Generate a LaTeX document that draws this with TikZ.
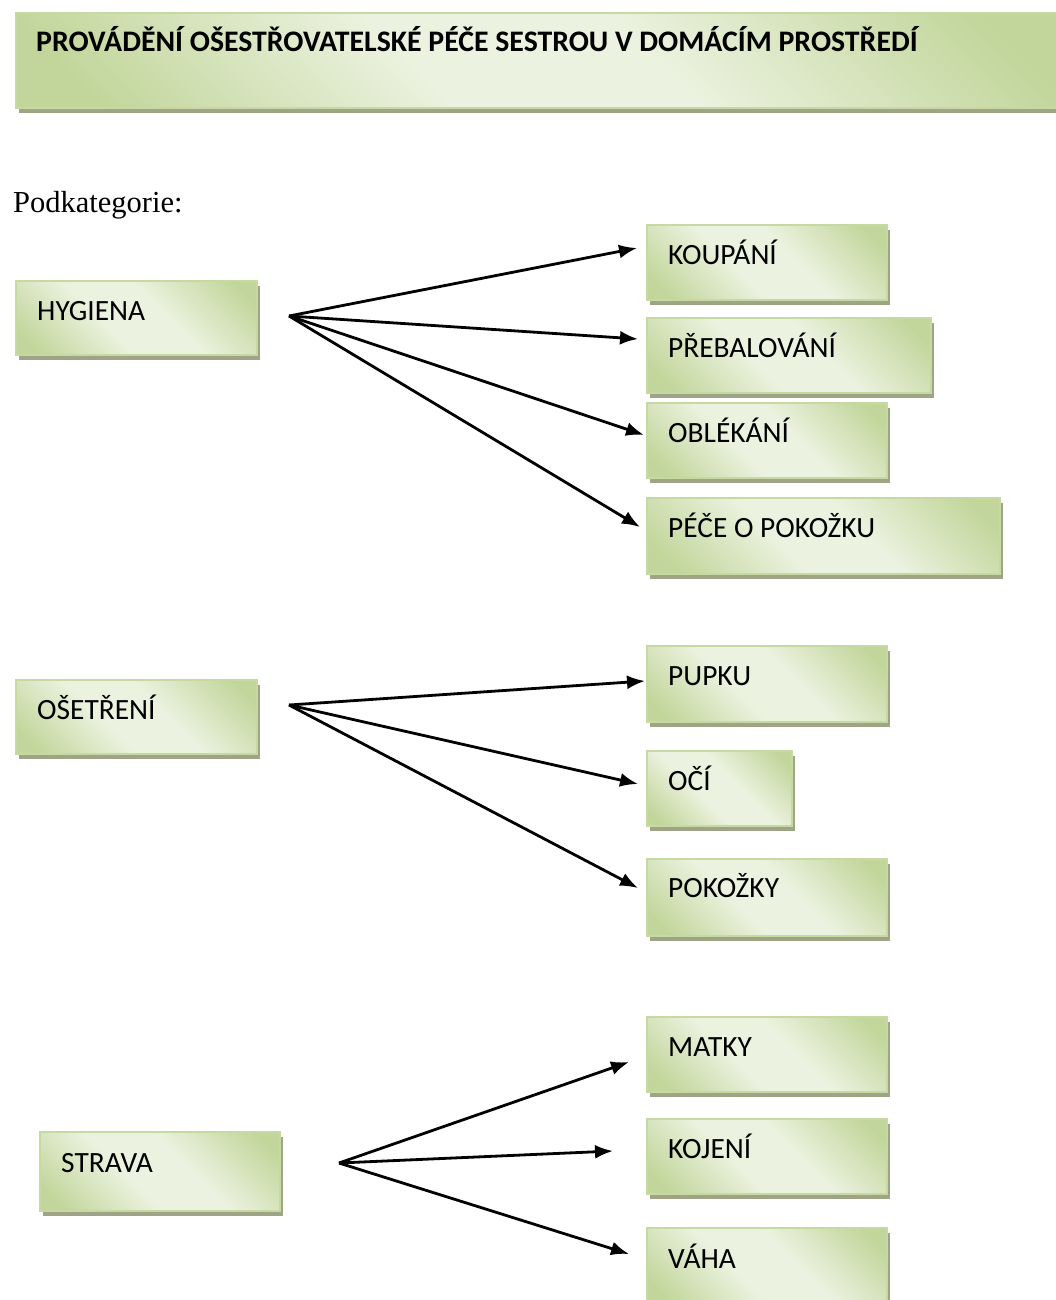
\documentclass[tikz,border=0pt]{standalone}
\usepackage{fontspec}
\setmainfont{Carlito}
\newfontfamily\seriffont{Liberation Serif}
\usetikzlibrary{arrows.meta,shadows}
\definecolor{mossdark}{RGB}{194,214,155}
\definecolor{mosslight}{RGB}{236,242,224}
\definecolor{mossborder}{RGB}{198,217,162}
\definecolor{mossshadow}{RGB}{158,164,133}
\pgfdeclareverticalshading{moss}{100bp}{color(0bp)=(mossdark); color(20bp)=(mossdark); color(43bp)=(mosslight); color(58bp)=(mosslight); color(80bp)=(mossdark); color(100bp)=(mossdark)}
\begin{document}
\begin{tikzpicture}[x=1pt,y=-1pt,
  box/.style={rectangle, anchor=north west, inner sep=0pt,
    draw=mossborder, line width=2pt,
    shading=moss, shading angle=135,
    general shadow={fill=mossshadow, shadow xshift=3pt, shadow yshift=-5pt}},
  lbl/.style={anchor=base west, inner sep=0pt, font=\fontsize{29.4}{35}\selectfont},
  arr/.style={line width=2.8pt, -{Latex[length=18pt,width=14pt]}}]
\useasboundingbox (0,0) rectangle (1056,1300);
\begin{scope}
\clip (0,0) rectangle (1056,1300);
% title
\node[box, minimum width=1047pt, minimum height=95pt] (title) at (15,12) {};
\node[lbl, font=\bfseries\fontsize{29.8}{35}\selectfont] (titlet) at (36,52) {PROVÁDĚNÍ OŠESTŘOVATELSKÉ PÉČE SESTROU V DOMÁCÍM PROSTŘEDÍ};
\node[anchor=base west, inner sep=0pt, font=\seriffont\fontsize{30.5}{36}\selectfont] (podk) at (13,212) {Podkategorie:};
% group 1
\node[box, minimum width=241pt, minimum height=74pt] (hyg) at (15,280) {};
\node[lbl] (hygt) at (37,320) {HYGIENA};
\node[box, minimum width=240pt, minimum height=75pt] (koup) at (646,224) {};
\node[lbl] (koupt) at (668,264) {KOUPÁNÍ};
\node[box, minimum width=284pt, minimum height=75pt] (preb) at (646,317) {};
\node[lbl] (prebt) at (668,357) {PŘEBALOVÁNÍ};
\node[box, minimum width=240pt, minimum height=75pt] (obl) at (646,402) {};
\node[lbl] (oblt) at (668,442) {OBLÉKÁNÍ};
\node[box, minimum width=353pt, minimum height=76pt] (pece) at (646,497) {};
\node[lbl] (pecet) at (668,537) {PÉČE O POKOŽKU};
% group 2
\node[box, minimum width=241pt, minimum height=74pt] (oset) at (15,679) {};
\node[lbl] (osett) at (37,719) {OŠETŘENÍ};
\node[box, minimum width=240pt, minimum height=76pt] (pupku) at (646,645) {};
\node[lbl] (pupkut) at (668,685) {PUPKU};
\node[box, minimum width=145pt, minimum height=75pt] (oci) at (646,750) {};
\node[lbl] (ocit) at (668,790) {OČÍ};
\node[box, minimum width=240pt, minimum height=77pt] (pokoz) at (646,858) {};
\node[lbl] (pokozt) at (668,897) {POKOŽKY};
% group 3
\node[box, minimum width=240pt, minimum height=79pt] (strava) at (39,1131) {};
\node[lbl] (stravat) at (61,1172) {STRAVA};
\node[box, minimum width=240pt, minimum height=75pt] (matky) at (646,1016) {};
\node[lbl] (matkyt) at (668,1056) {MATKY};
\node[box, minimum width=240pt, minimum height=75pt] (kojeni) at (646,1118) {};
\node[lbl] (kojenit) at (668,1158) {KOJENÍ};
\node[box, minimum width=240pt, minimum height=76pt] (vaha) at (646,1227) {};
\node[lbl] (vahat) at (668,1268) {VÁHA};
% connector points
\coordinate (hygsrc) at (289,316);
\coordinate (koupin) at (637,248);
\coordinate (prebin) at (638,339);
\coordinate (oblin) at (644,435);
\coordinate (pecein) at (640,527);
\coordinate (osetsrc) at (289,705);
\coordinate (pupkuin) at (645,681);
\coordinate (ociin) at (638,784);
\coordinate (pokozin) at (638,888);
\coordinate (stravasrc) at (339,1163);
\coordinate (matkyin) at (629,1062);
\coordinate (kojeniin) at (613,1151);
\coordinate (vahain) at (629,1254);
\draw[arr] (hygsrc) -- (koupin);
\draw[arr] (hygsrc) -- (prebin);
\draw[arr] (hygsrc) -- (oblin);
\draw[arr] (hygsrc) -- (pecein);
\draw[arr] (osetsrc) -- (pupkuin);
\draw[arr] (osetsrc) -- (ociin);
\draw[arr] (osetsrc) -- (pokozin);
\draw[arr] (stravasrc) -- (matkyin);
\draw[arr] (stravasrc) -- (kojeniin);
\draw[arr] (stravasrc) -- (vahain);
\end{scope}
\end{tikzpicture}
\end{document}
